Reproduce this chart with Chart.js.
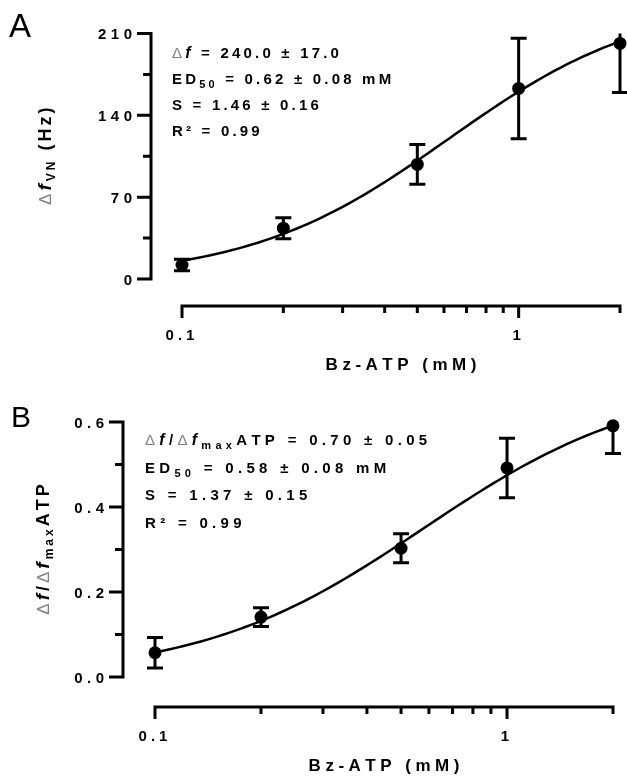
<!DOCTYPE html>
<html lang="en">
<head>
    <meta charset="UTF-8">
    <title>Bz-ATP dose response</title>
    <script src="https://cdn.jsdelivr.net/npm/chart.js"></script>
    <style>
        body {
            margin: 0;
            background-color: white;
        }
        canvas {
            display: block;
        }
    </style>
</head>
<body>
    <canvas id="chartA" width="627" height="388"></canvas>
    <canvas id="chartB" width="627" height="389"></canvas>

    <script>
        // Bz-ATP concentrations (mM)
        const doseMM = [0.1, 0.2, 0.5, 1, 2];

        // Panel A: frequency change (Hz), mean and SEM
        const deltaF = [12, 43.5, 98, 163, 201.5];
        const deltaFErr = [5, 9, 17, 43, 42];

        // Panel B: response relative to max ATP response
        const fracMax = [0.057, 0.141, 0.303, 0.492, 0.591];
        const fracMaxErr = [0.036, 0.022, 0.034, 0.07, 0.065];

        // Hill fit parameters [top, ED50, slope] and their errors
        const fitA = [240.0, 0.62, 1.46];
        const fitAErr = [17.0, 0.08, 0.16];
        const fitB = [0.70, 0.58, 1.37];
        const fitBErr = [0.05, 0.08, 0.15];
        const r2A = 0.99;
        const r2B = 0.99;

        // Axis ticks
        const yTicksA = [0, 70, 140, 210];
        const yMinorA = [35, 105, 175];
        const yTicksB = [0.0, 0.2, 0.4, 0.6];
        const yMinorB = [0.1, 0.3, 0.5];
        const xTicksMajor = [0.1, 1];
        const xTicksMinor = [0.2, 0.3, 0.4, 0.5, 0.6, 0.7, 0.8, 0.9, 2];

        const FONT = '"Liberation Sans", Arial, sans-serif';
        const GREY = '#808080';

        function hill(x, p) {
            return p[0] * Math.pow(x, p[2]) / (Math.pow(p[1], p[2]) + Math.pow(x, p[2]));
        }

        function fitCurve(p) {
            const pts = [];
            const n = 80;
            for (let i = 0; i <= n; i++) {
                const x = Math.pow(10, -1 + i / n * Math.log10(20));
                pts.push({ x: x, y: hill(x, p) });
            }
            return pts;
        }

        // text runs: [{t, font, color, dy, sp}], drawn char by char with extra spacing
        function runsWidth(ctx, runs, sp) {
            let w = 0;
            runs.forEach(r => {
                ctx.font = r.font;
                for (const ch of r.t) w += ctx.measureText(ch).width + (r.sp !== undefined ? r.sp : sp);
            });
            return w - sp;
        }

        function drawRuns(ctx, runs, x, y, sp, align) {
            const w = runsWidth(ctx, runs, sp);
            let cx = x;
            if (align === 'right') cx = x - w;
            if (align === 'center') cx = x - w / 2;
            ctx.textBaseline = 'alphabetic';
            ctx.textAlign = 'left';
            runs.forEach(r => {
                ctx.font = r.font;
                ctx.fillStyle = r.color || '#000';
                for (const ch of r.t) {
                    ctx.fillText(ch, cx, y + (r.dy || 0));
                    cx += ctx.measureText(ch).width + (r.sp !== undefined ? r.sp : sp);
                }
            });
        }

        const bold = s => `bold ${s}px ${FONT}`;
        const boldItalic = s => `italic bold ${s}px ${FONT}`;
        const plain = s => `${s}px ${FONT}`;

        // Prism-style detached axes, error bars and labels
        const prismAxes = {
            id: 'prismAxes',
            afterDatasetsDraw(chart, args, o) {
                const { ctx, scales: { x, y } } = chart;
                ctx.save();
                ctx.strokeStyle = '#000';
                ctx.lineWidth = 3;
                o.values.forEach((v, i) => {
                    const px = x.getPixelForValue(o.doses[i]);
                    const hi = v + o.errors[i];
                    const lo = v - o.errors[i];
                    const pTop = y.getPixelForValue(Math.min(hi, y.max));
                    const pBot = y.getPixelForValue(Math.max(lo, y.min));
                    ctx.beginPath();
                    ctx.moveTo(px, pTop);
                    ctx.lineTo(px, pBot);
                    if (hi <= y.max) {
                        ctx.moveTo(px - 8, pTop);
                        ctx.lineTo(px + 8, pTop);
                    }
                    ctx.moveTo(px - 8, pBot);
                    ctx.lineTo(px + 8, pBot);
                    ctx.stroke();
                });
                ctx.restore();
            },
            afterDraw(chart, args, o) {
                const { ctx, chartArea, scales: { x, y } } = chart;
                const axX = chartArea.left - o.yGap;
                const axY = chartArea.bottom + o.xGap;
                ctx.save();
                ctx.strokeStyle = '#000';
                ctx.lineWidth = 3;
                ctx.lineCap = 'butt';

                // y axis
                ctx.beginPath();
                ctx.moveTo(axX, y.getPixelForValue(y.max) - 1.5);
                ctx.lineTo(axX, y.getPixelForValue(y.min) + 1.5);
                o.yMajor.forEach(v => {
                    const py = y.getPixelForValue(v);
                    ctx.moveTo(axX - 14, py);
                    ctx.lineTo(axX, py);
                });
                o.yMinor.forEach(v => {
                    const py = y.getPixelForValue(v);
                    ctx.moveTo(axX - 8, py);
                    ctx.lineTo(axX, py);
                });

                // x axis
                ctx.moveTo(x.getPixelForValue(x.min) - 1.5, axY);
                ctx.lineTo(x.getPixelForValue(x.max) + 1.5, axY);
                xTicksMajor.forEach(v => {
                    const px = x.getPixelForValue(v);
                    ctx.moveTo(px, axY);
                    ctx.lineTo(px, axY + 12);
                });
                xTicksMinor.forEach(v => {
                    const px = x.getPixelForValue(v);
                    ctx.moveTo(px, axY);
                    ctx.lineTo(px, axY + 7);
                });
                ctx.stroke();

                // tick labels
                o.yMajor.forEach(v => {
                    drawRuns(ctx, [{ t: v.toFixed(o.yDecimals), font: bold(15) }],
                        axX - 19, y.getPixelForValue(v) + 5.5, 4.5, 'right');
                });
                xTicksMajor.forEach(v => {
                    drawRuns(ctx, [{ t: String(v), font: bold(15) }],
                        x.getPixelForValue(v) - 2, axY + 34, 4, 'center');
                });

                // axis titles
                const cx = (chartArea.left + chartArea.right) / 2;
                drawRuns(ctx, [{ t: 'Bz-ATP (mM)', font: bold(17) }], cx, axY + 64, 4.5, 'center');

                ctx.save();
                ctx.translate(o.yTitleX, (chartArea.top + chartArea.bottom) / 2);
                ctx.rotate(-Math.PI / 2);
                drawRuns(ctx, o.yTitle, 0, 6.5, 3, 'center');
                ctx.restore();

                // fit annotation
                o.notes.forEach((line, i) => {
                    drawRuns(ctx, line, o.noteX, o.noteY + i * o.noteStep, o.noteSp, 'left');
                });

                // panel letter
                ctx.font = plain(o.letterSize);
                ctx.fillStyle = '#000';
                ctx.textAlign = 'left';
                ctx.fillText(o.letter, o.letterPos[0], o.letterPos[1]);
                ctx.restore();
            }
        };

        function pm(v, e, d) {
            return ` = ${v.toFixed(d)} \u00b1 ${e.toFixed(d)}`;
        }

        function makeChart(id, cfg) {
            return new Chart(document.getElementById(id), {
                data: {
                    datasets: [
                        {
                            type: 'line',
                            data: fitCurve(cfg.fit),
                            borderColor: '#000',
                            borderWidth: 2.5,
                            pointRadius: 0,
                            tension: 0,
                            clip: false
                        },
                        {
                            type: 'scatter',
                            data: doseMM.map((d, i) => ({ x: d, y: cfg.values[i] })),
                            backgroundColor: '#000',
                            borderWidth: 0,
                            pointRadius: 6.5,
                            clip: false
                        }
                    ]
                },
                options: {
                    responsive: false,
                    animation: false,
                    layout: { padding: cfg.padding },
                    scales: {
                        x: { type: 'logarithmic', min: 0.1, max: 2, display: false },
                        y: { type: 'linear', min: cfg.yTicks[0], max: cfg.yTicks[cfg.yTicks.length - 1], display: false }
                    },
                    plugins: {
                        legend: { display: false },
                        tooltip: { enabled: false },
                        prismAxes: {
                            doses: doseMM,
                            values: cfg.values,
                            errors: cfg.errors,
                            yMajor: cfg.yTicks,
                            yMinor: cfg.yMinor,
                            yDecimals: cfg.yDecimals,
                            yGap: cfg.yGap,
                            xGap: cfg.xGap,
                            yTitle: cfg.yTitle,
                            yTitleX: cfg.yTitleX,
                            notes: cfg.notes,
                            noteX: cfg.noteX,
                            noteY: cfg.noteY,
                            noteStep: cfg.noteStep,
                            noteSp: cfg.noteSp,
                            letter: cfg.letter,
                            letterSize: cfg.letterSize,
                            letterPos: cfg.letterPos
                        }
                    }
                },
                plugins: [prismAxes]
            });
        }

        makeChart('chartA', {
            fit: fitA,
            values: deltaF,
            errors: deltaFErr,
            yTicks: yTicksA,
            yMinor: yMinorA,
            yDecimals: 0,
            padding: { left: 182, right: 7, top: 33.5, bottom: 109 },
            yGap: 31,
            xGap: 27,
            yTitleX: 44,
            yTitle: [
                { t: '\u0394', font: plain(17), color: GREY },
                { t: 'f', font: boldItalic(19) },
                { t: 'VN', font: bold(12), dy: 4 },
                { t: ' (Hz)', font: bold(18) }
            ],
            noteX: 172,
            noteY: 58,
            noteStep: 26,
            noteSp: 3.2,
            notes: [
                [{ t: '\u0394', font: plain(15), color: GREY }, { t: 'f', font: boldItalic(16) },
                 { t: pm(fitA[0], fitAErr[0], 1), font: bold(15) }],
                [{ t: 'ED', font: bold(15) }, { t: '50', font: bold(11), dy: 4 },
                 { t: pm(fitA[1], fitAErr[1], 2) + ' mM', font: bold(15) }],
                [{ t: 'S' + pm(fitA[2], fitAErr[2], 2), font: bold(15) }],
                [{ t: 'R\u00b2 = ' + r2A.toFixed(2), font: bold(15) }]
            ],
            letter: 'A',
            letterSize: 33,
            letterPos: [9, 37]
        });

        makeChart('chartB', {
            fit: fitB,
            values: fracMax,
            errors: fracMaxErr,
            yTicks: yTicksB,
            yMinor: yMinorB,
            yDecimals: 1,
            padding: { left: 155, right: 14, top: 34, bottom: 100 },
            yGap: 32,
            xGap: 30,
            yTitleX: 42,
            yTitle: [
                { t: '\u0394', font: plain(17), color: GREY },
                { t: 'f', font: boldItalic(19) },
                { t: '/', font: bold(18) },
                { t: '\u0394', font: plain(17), color: GREY },
                { t: 'f', font: boldItalic(19) },
                { t: 'max', font: bold(12), dy: 4 },
                { t: 'ATP', font: bold(18) }
            ],
            noteX: 145,
            noteY: 57,
            noteStep: 27.7,
            noteSp: 4.3,
            notes: [
                [{ t: '\u0394', font: plain(15), color: GREY }, { t: 'f', font: boldItalic(16) },
                 { t: '/', font: bold(15) }, { t: '\u0394', font: plain(15), color: GREY },
                 { t: 'f', font: boldItalic(16) }, { t: 'max', font: bold(11), dy: 4 },
                 { t: 'ATP' + pm(fitB[0], fitBErr[0], 2), font: bold(15) }],
                [{ t: 'ED', font: bold(15) }, { t: '50', font: bold(11), dy: 4 },
                 { t: pm(fitB[1], fitBErr[1], 2) + ' mM', font: bold(15) }],
                [{ t: 'S' + pm(fitB[2], fitBErr[2], 2), font: bold(15) }],
                [{ t: 'R\u00b2 = ' + r2B.toFixed(2), font: bold(15) }]
            ],
            letter: 'B',
            letterSize: 30,
            letterPos: [11, 39]
        });
    </script>
</body>
</html>
